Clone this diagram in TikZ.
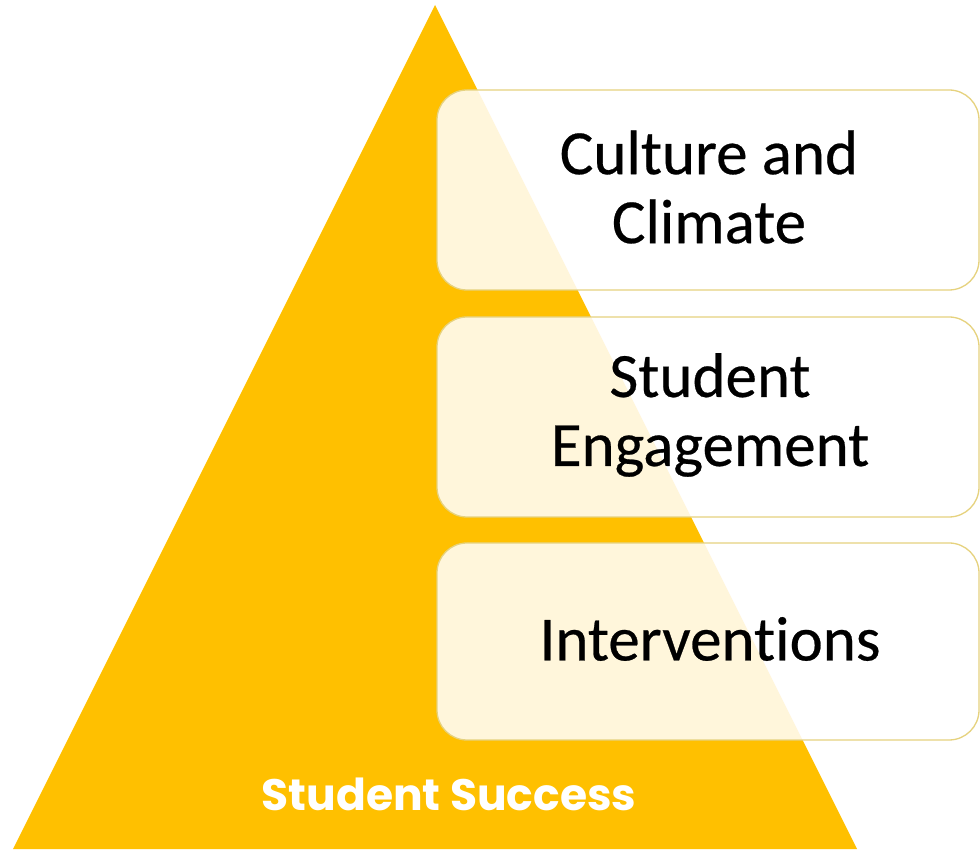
\documentclass[tikz,border=0pt]{standalone}
\usepackage{fontspec}
\setmainfont{Carlito}[Ligatures=NoCommon, FakeBold=0.4]
\newfontfamily\successfont{Poppins}[UprightFont=* Bold]
\begin{document}
\begin{tikzpicture}[x=1pt,y=1pt,
  boxstyle/.style={rounded corners=30pt, fill=white, fill opacity=0.86, draw=boxline, line width=1.3pt, draw opacity=1},
  boxtext/.style={font=\fontsize{63}{69}\selectfont, align=center, text=black, text opacity=1}]
\definecolor{pyr}{HTML}{FFC000}
\definecolor{boxline}{HTML}{E6D27E}
\useasboundingbox (0,0) rectangle (980,849);
\fill[white] (0,0) rectangle (980,849);
\fill[pyr] (13,0) -- (435,844) -- (857,0) -- cycle;
\draw[boxstyle] (437,559) rectangle (979,759);
\draw[boxstyle] (437,332) rectangle (979,532);
\draw[boxstyle] (437,109) rectangle (979,306);
\node[boxtext] (b1) at (709,662) {Culture and\\Climate};
\node[boxtext] (b2) at (710,434) {Student\\Engagement};
\node[boxtext] (b3) at (710,210) {Interventions};
\node[font=\successfont\fontsize{44}{50}\selectfont, text=white] (ss) at (449,55) {Student Success};
\end{tikzpicture}
\end{document}
